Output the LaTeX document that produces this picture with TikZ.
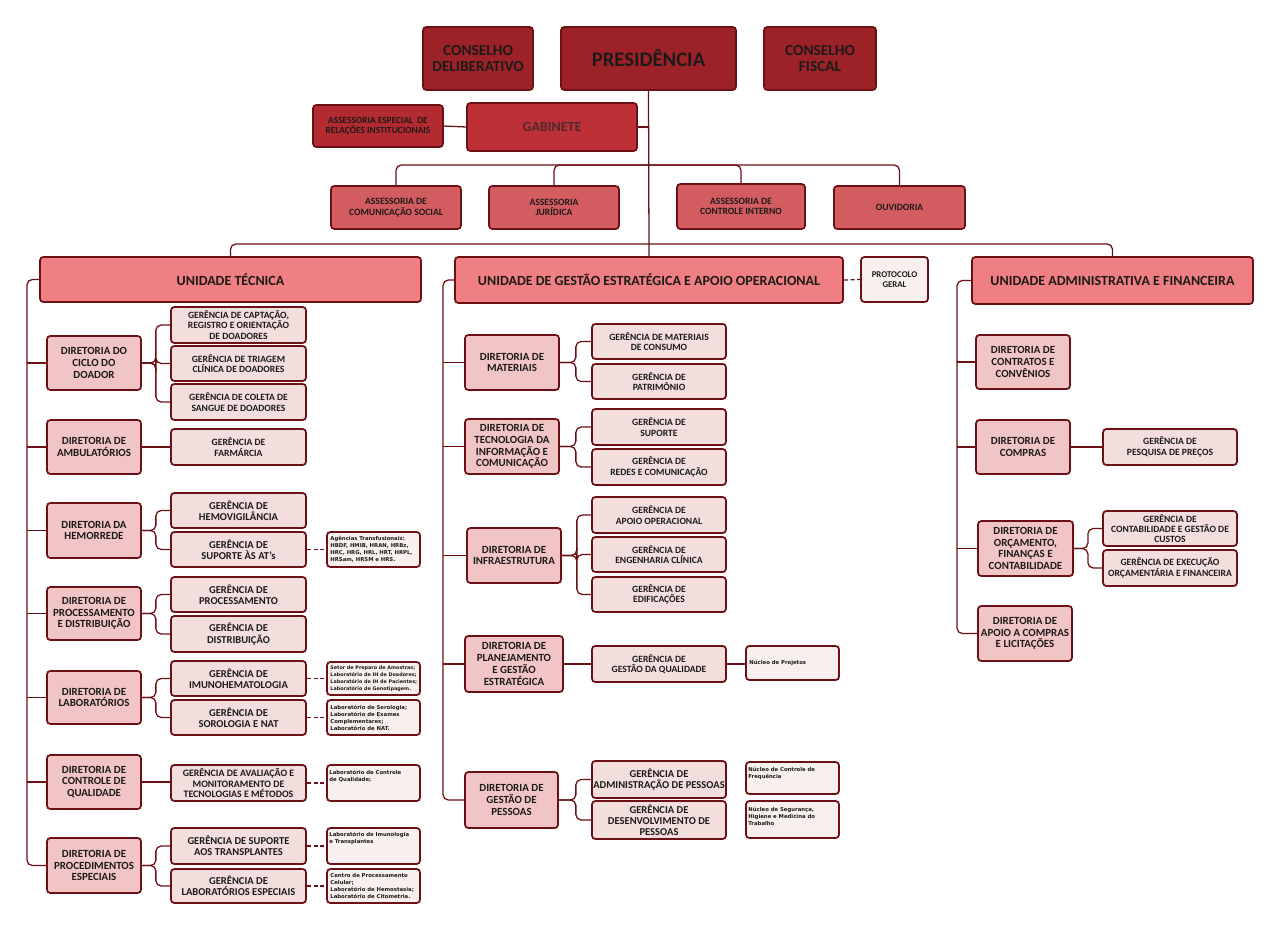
\documentclass[tikz,border=0pt]{standalone}
\usepackage{fontspec}
\setmainfont{Carlito}
\newfontfamily\labfont{DejaVu Sans}
\usetikzlibrary{calc}
\definecolor{bord}{HTML}{6B1015}
\definecolor{cTop}{HTML}{9D2228}
\definecolor{cGab}{HTML}{BD3037}
\definecolor{cAesp}{HTML}{B42A31}
\definecolor{cAss}{HTML}{D35C61}
\definecolor{cUni}{HTML}{EF7F82}
\definecolor{cDir}{HTML}{F1C5C6}
\definecolor{cGer}{HTML}{F3DEDE}
\definecolor{cLab}{HTML}{F8EFEF}
\definecolor{txt}{HTML}{1E1A1A}
\definecolor{gabtxt}{HTML}{4E2A2E}
\newcommand\obox[7]{\node[#6, minimum width={(#4-#2)*0.75pt}, minimum height={(#5-#3)*0.75pt}] (#1) at ({(#2+#4)/2},{(#3+#5)/2}) {#7};}
\begin{document}
\begin{tikzpicture}[x=0.75pt,y=-0.75pt,
  bx/.style={draw=bord, line width=1.3pt, rounded corners=2.5pt, inner sep=1pt, align=center, text=txt},
  topb/.style={bx, fill=cTop, font=\bfseries\fontsize{11.5}{12.5}\selectfont},
  presb/.style={bx, fill=cTop, font=\bfseries\fontsize{15.5}{17}\selectfont},
  gabb/.style={bx, fill=cGab, text=gabtxt, font=\bfseries\fontsize{10.5}{12}\selectfont},
  aespb/.style={bx, fill=cAesp, font=\bfseries\fontsize{7}{7.6}\selectfont},
  assb/.style={bx, fill=cAss, font=\bfseries\fontsize{7.2}{8}\selectfont},
  unib/.style={bx, fill=cUni, font=\bfseries\fontsize{10.5}{12}\selectfont},
  dirb/.style={bx, fill=cDir, font=\bfseries\fontsize{8.2}{8.8}\selectfont},
  gerb/.style={bx, fill=cGer, font=\bfseries\fontsize{7.2}{7.8}\selectfont},
  gerbig/.style={gerb, font=\bfseries\fontsize{7.9}{8.4}\selectfont},
  germid/.style={gerb, font=\bfseries\fontsize{7.4}{8.1}\selectfont},
  labb/.style={bx, fill=cLab},
  protb/.style={bx, fill=cLab, font=\bfseries\fontsize{6.6}{7.2}\selectfont},
  labt/.style={inner sep=0pt, align=left, text=txt, font=\labfont\bfseries\fontsize{4.0}{5.3}\selectfont},
  labtsm/.style={labt, font=\labfont\bfseries\fontsize{3.65}{5.2}\selectfont},
  conn/.style={draw=bord, line width=0.95pt},
  rc/.style={rounded corners=4pt},
  dsh/.style={conn, dash pattern=on 3pt off 2pt}]
\fill[white] (0,0) rectangle (1280,931);
\useasboundingbox (0,0) rectangle (1280,931);

% ---- top
\obox{cdel}{423}{27}{533}{90}{topb}{CONSELHO\\DELIBERATIVO}
\obox{pres}{561}{27}{736}{90}{presb}{PRESIDÊNCIA}
\obox{cfis}{764}{27}{876}{90}{topb}{CONSELHO\\FISCAL}
\obox{aesp}{313}{105}{443}{147}{aespb}{ASSESSORIA ESPECIAL \ DE\\RELAÇÕES INSTITUCIONAIS}
\obox{gab}{467}{103}{637}{151}{gabb}{GABINETE}

% ---- assessorias
\obox{acs}{331}{186}{461}{229}{assb}{ASSESSORIA DE\\COMUNICAÇÃO SOCIAL}
\obox{aj}{489}{186}{619}{229}{assb}{ASSESSORIA\\JURÍDICA}
\obox{aci}{677}{184}{805}{229}{assb}{ASSESSORIA DE\\CONTROLE INTERNO}
\obox{ouv}{834}{186}{965}{229}{assb}{OUVIDORIA}

% ---- unidades
\obox{ut}{40}{257}{421}{302}{unib}{UNIDADE TÉCNICA}
\obox{ug}{455}{257}{843}{303}{unib}{UNIDADE DE GESTÃO ESTRATÉGICA E APOIO OPERACIONAL}
\obox{prot}{861}{257}{928}{302}{protb}{PROTOCOLO\\GERAL}
\obox{uaf}{972}{257}{1253}{304}{unib}{UNIDADE ADMINISTRATIVA E FINANCEIRA}

\coordinate (bus1) at (649,165);
\coordinate (bus2) at (649,244);
\coordinate (lsp) at (27,0);
\coordinate (msp) at (443,0);
\coordinate (rsp) at (957,0);

% ---- left column
\obox{dciclo}{47}{336}{141}{390}{dirb}{DIRETORIA DO\\CICLO DO\\DOADOR}
\obox{damb}{47}{420}{141}{474}{dirb}{DIRETORIA DE\\AMBULATÓRIOS}
\obox{dhem}{47}{503}{141}{558}{dirb}{DIRETORIA DA\\HEMORREDE}
\obox{dproc}{47}{587}{141}{640}{dirb}{DIRETORIA DE\\PROCESSAMENTO\\E DISTRIBUIÇÃO}
\obox{dlab}{47}{671}{141}{724}{dirb}{DIRETORIA DE\\LABORATÓRIOS}
\obox{dcq}{47}{755}{141}{809}{dirb}{DIRETORIA DE\\CONTROLE DE\\QUALIDADE}
\obox{dpe}{47}{838}{141}{893}{dirb}{DIRETORIA DE\\PROCEDIMENTOS\\ESPECIAIS}

\obox{gcap}{171}{307}{306}{343}{gerb}{GERÊNCIA DE CAPTAÇÃO,\\REGISTRO E ORIENTAÇÃO\\DE DOADORES}
\obox{gtri}{171}{346}{306}{381}{gerb}{GERÊNCIA DE TRIAGEM\\CLÍNICA DE DOADORES}
\obox{gcol}{171}{384}{306}{420}{gerb}{GERÊNCIA DE COLETA DE\\SANGUE DE DOADORES}
\obox{gfar}{171}{429}{306}{465}{gerb}{GERÊNCIA DE\\FARMÁRCIA}
\obox{ghem}{171}{493}{306}{528}{gerbig}{GERÊNCIA DE\\HEMOVIGILÂNCIA}
\obox{gsup}{171}{532}{306}{567}{gerbig}{GERÊNCIA DE\\SUPORTE ÀS AT's}
\obox{gpro}{171}{577}{306}{612}{gerbig}{GERÊNCIA DE\\PROCESSAMENTO}
\obox{gdis}{171}{616}{306}{652}{gerbig}{GERÊNCIA DE\\DISTRIBUIÇÃO}
\obox{gimu}{171}{661}{306}{696}{gerbig}{GERÊNCIA DE\\IMUNOHEMATOLOGIA}
\obox{gsor}{171}{700}{306}{735}{gerbig}{GERÊNCIA DE\\SOROLOGIA E NAT}
\obox{gava}{171}{765}{306}{801}{germid}{GERÊNCIA DE AVALIAÇÃO E\\MONITORAMENTO DE\\TECNOLOGIAS E MÉTODOS}
\obox{gstr}{171}{828}{306}{864}{gerbig}{GERÊNCIA DE SUPORTE\\AOS TRANSPLANTES}
\obox{glab}{171}{869}{306}{903}{gerbig}{GERÊNCIA DE\\LABORATÓRIOS ESPECIAIS}

\obox{lage}{327}{532}{420}{567}{labb}{}
\obox{lset}{327}{662}{420}{695}{labb}{}
\obox{lser}{327}{700}{420}{735}{labb}{}
\obox{lcq}{327}{765}{420}{801}{labb}{}
\obox{limu}{327}{828}{420}{864}{labb}{}
\obox{lcpc}{327}{869}{420}{903}{labb}{}
\node[labt, anchor=west] (lage-t) at ([xshift=3]lage.west) {Agências Transfusionais:\\HBDF, HMIB, HRAN, HRBz,\\HRC, HRG, HRL, HRT, HRPL,\\HRSam, HRSM e HRS.};
\node[labtsm, anchor=west] (lset-t) at ([xshift=3]lset.west) {Setor de Preparo de Amostras;\\Laboratório de IH de Doadores;\\Laboratório de IH de Pacientes;\\Laboratório de Genotipagem.};
\node[labt, anchor=west] (lser-t) at ([xshift=3]lser.west) {Laboratório de Serologia;\\Laboratório de Exames\\Complementares;\\Laboratório de NAT.};
\node[labt, anchor=north west] (lcq-t) at ([shift={(3,6)}]lcq.north west) {Laboratório de Controle\\de Qualidade;};
\node[labt, anchor=north west] (limu-t) at ([shift={(3,5)}]limu.north west) {Laboratório de Imunologia\\e Transplantes};
\node[labt, anchor=west] (lcpc-t) at ([xshift=3]lcpc.west) {Centro de Processamento\\Celular;\\Laboratório de Hemostasia;\\Laboratório de Citometria.};

% ---- middle column
\obox{dmat}{465}{335}{559}{390}{dirb}{DIRETORIA DE\\MATERIAIS}
\obox{dtic}{465}{419}{559}{474}{dirb}{DIRETORIA DE\\TECNOLOGIA DA\\INFORMAÇÃO E\\COMUNICAÇÃO}
\obox{dinf}{467}{528}{561}{583}{dirb}{DIRETORIA DE\\INFRAESTRUTURA}
\obox{dpla}{465}{636}{563}{692}{dirb}{DIRETORIA DE\\PLANEJAMENTO\\E GESTÃO\\ESTRATÉGICA}
\obox{dgp}{465}{772}{558}{828}{dirb}{DIRETORIA DE\\GESTÃO DE\\PESSOAS}

\obox{gmc}{592}{324}{726}{359}{gerb}{GERÊNCIA DE MATERIAIS\\DE CONSUMO}
\obox{gpat}{592}{364}{726}{399}{gerb}{GERÊNCIA DE\\PATRIMÔNIO}
\obox{gsu}{592}{409}{726}{445}{gerb}{GERÊNCIA DE\\SUPORTE}
\obox{gred}{592}{449}{726}{485}{gerb}{GERÊNCIA DE\\REDES E COMUNICAÇÃO}
\obox{gapo}{592}{497}{726}{533}{gerb}{GERÊNCIA DE\\APOIO OPERACIONAL}
\obox{geng}{592}{537}{726}{572}{gerb}{GERÊNCIA DE\\ENGENHARIA CLÍNICA}
\obox{gedi}{592}{577}{726}{612}{gerb}{GERÊNCIA DE\\EDIFICAÇÕES}
\obox{gqua}{592}{646}{726}{682}{gerb}{GERÊNCIA DE\\GESTÃO DA QUALIDADE}
\obox{gadm}{592}{761}{726}{798}{gerbig}{GERÊNCIA DE\\ADMINISTRAÇÃO DE PESSOAS}
\obox{gdes}{592}{801}{726}{839}{gerbig}{GERÊNCIA DE\\DESENVOLVIMENTO DE\\PESSOAS}

\obox{nproj}{746}{646}{839}{680}{labb}{}
\obox{ncf}{746}{762}{839}{794}{labb}{}
\obox{nseg}{746}{801}{839}{838}{labb}{}
\node[labt, anchor=west] (nproj-t) at ([xshift=3]nproj.west) {Núcleo de Projetos};
\node[labt, anchor=north west] (ncf-t) at ([shift={(3,6)}]ncf.north west) {Núcleo de Controle de\\Frequência};
\node[labt, anchor=north west] (nseg-t) at ([shift={(3,7)}]nseg.north west) {Núcleo de Segurança,\\Higiene e Medicina do\\Trabalho};

% ---- right column
\obox{dcon}{976}{335}{1070}{389}{dirb}{DIRETORIA DE\\CONTRATOS E\\CONVÊNIOS}
\obox{dcom}{976}{420}{1070}{474}{dirb}{DIRETORIA DE\\COMPRAS}
\obox{dorc}{978}{521}{1073}{576}{dirb}{DIRETORIA DE\\ORÇAMENTO,\\FINANÇAS E\\CONTABILIDADE}
\obox{dapc}{978}{606}{1072}{661}{dirb}{DIRETORIA DE\\APOIO A COMPRAS\\E LICITAÇÕES}
\obox{gpp}{1103}{429}{1237}{465}{gerb}{GERÊNCIA DE\\PESQUISA DE PREÇOS}
\obox{gcont}{1103}{511}{1237}{546}{gerb}{GERÊNCIA DE\\CONTABILIDADE E GESTÃO DE\\CUSTOS}
\obox{gexe}{1103}{550}{1237}{586}{gerb}{GERÊNCIA DE EXECUÇÃO\\ORÇAMENTÁRIA E FINANCEIRA}

% ---- connectors top
\draw[conn] (pres.south) -- (ug.north);
\draw[conn] (gab.east) -- (gab.east -| pres.south);
\draw[conn] (aesp.east) -- (gab.west);
\draw[conn,rc] (acs.north) -- (acs.north |- bus1) -| (ouv.north);
\draw[conn,rc] (aj.north) |- (bus1);
\draw[conn,rc] (aci.north) |- (bus1);
\draw[conn,rc] (ut.north) |- (bus2) -| (uaf.north);
\draw[dsh] (ug.east) -- (prot.west);

% ---- spines
\draw[conn,rc] (ut.west) -| (lsp |- dpe.west) -- (dpe.west);
\foreach \d in {dciclo,damb,dhem,dproc,dlab,dcq} \draw[conn] (\d.west) -- (\d.west -| lsp);
\draw[conn,rc] (ug.west) -| (msp |- dgp.west) -- (dgp.west);
\foreach \d in {dmat,dtic,dinf,dpla} \draw[conn] (\d.west) -- (\d.west -| msp);
\draw[conn,rc] (uaf.west) -| (rsp |- dapc.west) -- (dapc.west);
\foreach \d in {dcon,dcom,dorc} \draw[conn] (\d.west) -- (\d.west -| rsp);

% ---- brackets
\foreach \g in {gcap,gtri,gcol} \draw[conn,rc] (dciclo.east) -- ++(14,0) |- (\g.west);
\foreach \g in {ghem,gsup} \draw[conn,rc] (dhem.east) -- ++(14,0) |- (\g.west);
\foreach \g in {gpro,gdis} \draw[conn,rc] (dproc.east) -- ++(14,0) |- (\g.west);
\foreach \g in {gimu,gsor} \draw[conn,rc] (dlab.east) -- ++(14,0) |- (\g.west);
\foreach \g in {gstr,glab} \draw[conn,rc] (dpe.east) -- ++(14,0) |- (\g.west);
\draw[conn] (damb.east) -- (damb.east -| gfar.west);
\draw[conn] (dcq.east) -- (dcq.east -| gava.west);
\foreach \g in {gmc,gpat} \draw[conn,rc] (dmat.east) -- ++(16,0) |- (\g.west);
\foreach \g in {gsu,gred} \draw[conn,rc] (dtic.east) -- ++(16,0) |- (\g.west);
\foreach \g in {gapo,geng,gedi} \draw[conn,rc] (dinf.east) -- ++(15,0) |- (\g.west);
\foreach \g in {gadm,gdes} \draw[conn,rc] (dgp.east) -- ++(17,0) |- (\g.west);
\draw[conn] (dpla.east) -- (dpla.east -| gqua.west);
\draw[conn] (gqua.east) -- (gqua.east -| nproj.west);
\draw[conn] (dcom.east) -- (dcom.east -| gpp.west);
\foreach \g in {gcont,gexe} \draw[conn,rc] (dorc.east) -- ++(14,0) |- (\g.west);

% ---- dashed to labs
\draw[dsh] (gsup.east) -- (gsup.east -| lage.west);
\draw[dsh] (gimu.east) -- (gimu.east -| lset.west);
\draw[dsh] (gsor.east) -- (gsor.east -| lser.west);
\draw[dsh] (gava.east) -- (gava.east -| lcq.west);
\draw[dsh] (gstr.east) -- (gstr.east -| limu.west);
\draw[dsh] (glab.east) -- (glab.east -| lcpc.west);
\end{tikzpicture}
\end{document}
